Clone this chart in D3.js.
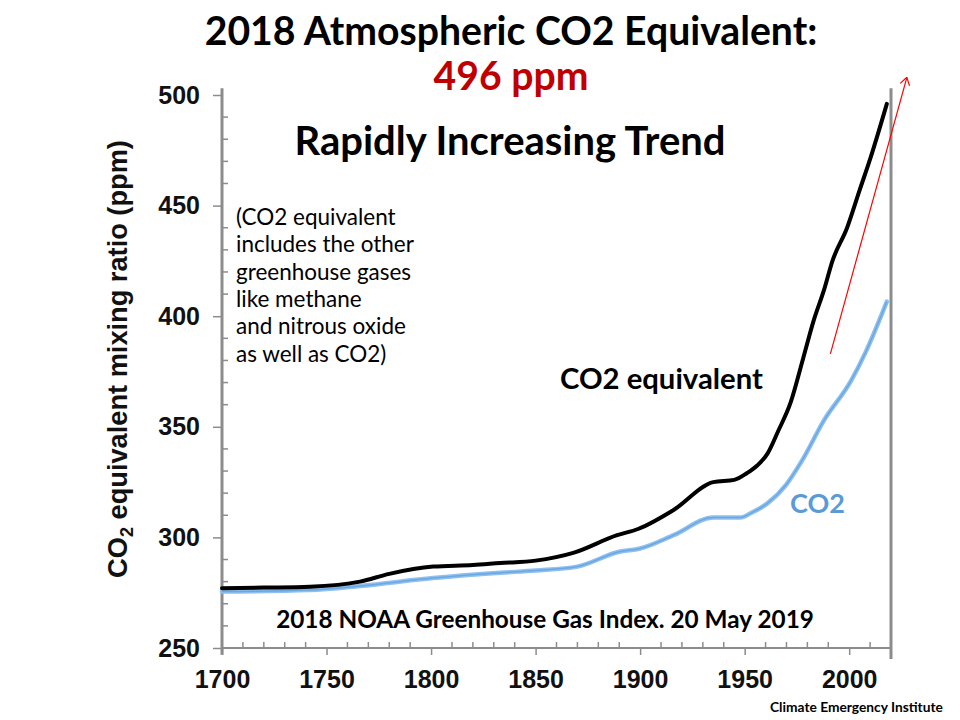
<!DOCTYPE html>
<html><head><meta charset="utf-8">
<script src="https://cdn.jsdelivr.net/npm/d3@7"></script>
<style>body{margin:0;background:#fff}svg{display:block}</style>
</head><body>
<svg id="c" width="960" height="720"></svg>
<script>
// ---- data ----
const eqYears = [1700,1720,1742,1766,1780,1801,1820,1833,1850,1868,1889,1899,1916,1935,1945,1951,1956,1961,1966,1972,1978,1983,1988,1992,1999,2005,2010,2018];
const eqValues = [277,277.3,277.7,280,283.5,286.8,287.5,288.4,289.5,293,301,303.8,312.4,325,326,329,332.5,338,348,361,381,398,412,425,440,457,471,496];
const co2Years = [1700,1742,1766,1801,1833,1850,1870,1890,1900,1916,1935,1948,1953,1961,1970,1977,1988,2001,2008,2018];
const co2Values = [275.5,276.2,278,281.6,284,285,286.8,293.5,295,301,309,309,311,315.5,324,334,353,371,384,406.6];
const xTicks = [1700,1750,1800,1850,1900,1950,2000];
const yTicks = [250,300,350,400,450,500];
const trendArrow = [[1991,383],[2027.6,508]];
const noteLines = ["(CO2 equivalent","includes the other","greenhouse gases","like methane","and nitrous oxide","as well as CO2)"];

const svg = d3.select("#c");
const x = d3.scaleLinear().domain([1700,2020]).range([222,891]);
const y = d3.scaleLinear().domain([250,500]).range([648,95]);
const AX = "#8c8c8c";
const sans = "Lato, 'Open Sans', sans-serif";
const arial = "'Liberation Sans', Arial, sans-serif";

function fit(sel, w){
  const n = sel.node(); const fs = parseFloat(sel.attr("font-size"));
  const cw = n.getComputedTextLength(); if (cw>0) sel.attr("font-size", fs*w/cw);
  return sel;
}

// minor ticks y (inside, right)
svg.append("g").selectAll("line").data(d3.range(250,501,10).filter(v=>v%50!==0)).join("line")
  .attr("x1",x(1700)).attr("x2",x(1700)+6).attr("y1",d=>y(d)).attr("y2",d=>y(d)).attr("stroke",AX).attr("stroke-width",1.5);
// minor ticks x (inside, up)
svg.append("g").selectAll("line").data(d3.range(1710,2021,10).filter(v=>v%50!==0)).join("line")
  .attr("x1",d=>x(d)).attr("x2",d=>x(d)).attr("y1",y(250)).attr("y2",y(250)-6).attr("stroke",AX).attr("stroke-width",1.5);

// axes
const ya = svg.append("g").attr("transform",`translate(${x(1700)},0)`)
  .call(d3.axisLeft(y).tickValues(yTicks).tickSize(9).tickPadding(13).tickFormat(d3.format("d")));
ya.select(".domain").attr("stroke",AX).attr("stroke-width",3).attr("d",`M0,${y(503)}V${y(247)}`);
ya.selectAll(".tick line").attr("stroke",AX).attr("stroke-width",1.5);
ya.selectAll("text").attr("font-family",arial).attr("font-weight","bold").attr("font-size",25).attr("fill","#111");

const xa = svg.append("g").attr("transform",`translate(0,${y(250)})`)
  .call(d3.axisBottom(x).tickValues(xTicks).tickSize(7).tickPadding(15).tickFormat(d3.format("d")));
xa.select(".domain").attr("stroke",AX).attr("stroke-width",2).attr("d",`M${x(1700)},0H${x(2020)}`);
xa.selectAll(".tick line").attr("stroke",AX).attr("stroke-width",1.5);
xa.selectAll("text").attr("font-family",arial).attr("font-weight","bold").attr("font-size",25).attr("fill","#111");

// right border line
svg.append("line").attr("x1",x(2020)).attr("x2",x(2020)).attr("y1",y(503)).attr("y2",y(245))
  .attr("stroke",AX).attr("stroke-width",3);

// series
const line = d3.line().x(d=>x(d[0])).y(d=>y(d[1])).curve(d3.curveMonotoneX);
svg.append("path").datum(co2Years.map((d,i)=>[d,co2Values[i]])).attr("d",line)
  .attr("fill","none").attr("stroke","#8fc0ee").attr("stroke-width",4.5).attr("stroke-linecap","round");
svg.append("path").datum(co2Years.map((d,i)=>[d,co2Values[i]])).attr("d",line)
  .attr("fill","none").attr("stroke","#6aa7e3").attr("stroke-width",1.5);
svg.append("path").datum(eqYears.map((d,i)=>[d,eqValues[i]])).attr("d",line)
  .attr("fill","none").attr("stroke","#000").attr("stroke-width",4).attr("stroke-linecap","round");

// red trend arrow
const [a0,a1] = trendArrow;
const ax0=x(a0[0]), ay0=y(a0[1]), ax1=x(a1[0]), ay1=y(a1[1]);
svg.append("line").attr("x1",ax0).attr("y1",ay0).attr("x2",ax1).attr("y2",ay1).attr("stroke","#ff0000").attr("stroke-width",1.2);
const ang = Math.atan2(ay1-ay0, ax1-ax0);
[ang+Math.PI*0.82, ang-Math.PI*0.82].forEach(t=>{
  svg.append("line").attr("x1",ax1).attr("y1",ay1).attr("x2",ax1+9*Math.cos(t)).attr("y2",ay1+9*Math.sin(t))
    .attr("stroke","#ff0000").attr("stroke-width",1.2);
});

// titles
fit(svg.append("text").attr("x",511).attr("y",45).attr("text-anchor","middle").attr("font-family",sans)
  .attr("font-weight","bold").attr("font-size",36).attr("fill","#000").text("2018 Atmospheric CO2 Equivalent:"),613);
fit(svg.append("text").attr("x",511).attr("y",90).attr("text-anchor","middle").attr("font-family",sans)
  .attr("font-weight","bold").attr("font-size",36).attr("fill","#c00000").text("496 ppm"),155);
fit(svg.append("text").attr("x",510).attr("y",155).attr("text-anchor","middle").attr("font-family",sans)
  .attr("font-weight","bold").attr("font-size",34).attr("fill","#000").text("Rapidly Increasing Trend"),431);

// note
const note = svg.append("g");
noteLines.forEach((t,i)=>{
  note.append("text").attr("x",236).attr("y",225+i*27.3).attr("font-family",sans)
    .attr("font-size",20).attr("fill","#000").text(t);
});
const w2 = note.selectAll("text").nodes()[1].getComputedTextLength();
note.selectAll("text").attr("font-size",20*178/w2);

// labels
fit(svg.append("text").attr("x",560).attr("y",389).attr("font-family",sans)
  .attr("font-weight","bold").attr("font-size",26).attr("fill","#000").text("CO2 equivalent"),203);
fit(svg.append("text").attr("x",790).attr("y",513).attr("font-family",sans)
  .attr("font-weight","bold").attr("font-size",26).attr("fill","#5b9bd5").text("CO2"),55);
fit(svg.append("text").attr("x",545).attr("y",628).attr("text-anchor","middle").attr("font-family",sans)
  .attr("font-weight","bold").attr("font-size",21).attr("fill","#000").text("2018 NOAA Greenhouse Gas Index. 20 May 2019"),538);
fit(svg.append("text").attr("x",770).attr("y",712).attr("font-family",sans)
  .attr("font-weight","bold").attr("font-size",12).attr("fill","#000").text("Climate Emergency Institute"),173);

// y-axis title
const yt = svg.append("text").attr("transform","translate(127,359) rotate(-90)").attr("text-anchor","middle")
  .attr("font-family",arial).attr("font-weight","bold").attr("font-size",24).attr("fill","#111");
yt.append("tspan").text("CO");
yt.append("tspan").attr("font-size",16).attr("dy",6).text("2");
yt.append("tspan").attr("dy",-6).text(" equivalent mixing ratio (ppm)");
const yw = yt.node().getBBox().height;
const ylen = yt.node().getComputedTextLength();
if (ylen>0) {
  const k = 438/ylen;
  yt.attr("font-size",24*k);
  yt.selectAll("tspan").filter((d,i)=>i===1).attr("font-size",16*k);
}
</script>
</body></html>
